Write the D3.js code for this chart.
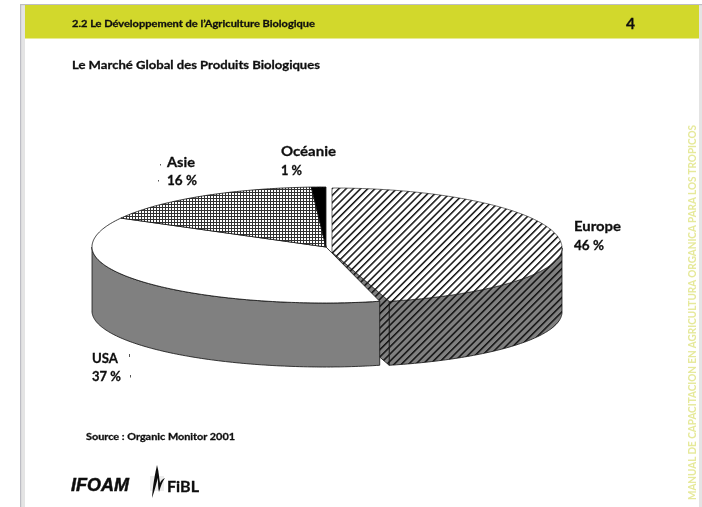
<!DOCTYPE html>
<html><head><meta charset="utf-8">
<script src="https://cdn.jsdelivr.net/npm/d3@7/dist/d3.min.js"></script>
<style>html,body{margin:0;padding:0;background:#fff}svg{display:block}text{font-family:Lato,"Noto Sans",sans-serif;font-weight:700;fill:#111;stroke:#111;stroke-width:0.3}</style>
</head><body><svg id="c" width="702" height="507"></svg>
<script>
const categories = ["Europe", "USA", "Asie", "Océanie"];
const values = [46, 37, 16, 1];
const percentLabels = ["46 %", "37 %", "16 %", "1 %"];
const pageTitle = "2.2 Le Développement de l’Agriculture Biologique";
const pageNumber = "4";
const chartTitle = "Le Marché Global des Produits Biologiques";
const sourceText = "Source : Organic Monitor 2001";
const sideText = "MANUAL DE CAPACITACION EN AGRICULTURA ORGANICA PARA LOS TROPICOS";

const svg = d3.select("#c");
const defs = svg.append("defs");
defs.append("filter").attr("id","soft").append("feGaussianBlur").attr("stdDeviation",0.35);
function stripes(id,bg){
  const p = defs.append("pattern").attr("id",id).attr("patternUnits","userSpaceOnUse")
    .attr("width",5.1).attr("height",5.1).attr("patternTransform","rotate(45)");
  p.append("rect").attr("width",5.1).attr("height",5.1).attr("fill",bg);
  p.append("rect").attr("width",1.5).attr("height",5.1).attr("fill","#111");
}
stripes("hatchTop","#fff"); stripes("hatchSide","#808080");
const g0 = defs.append("pattern").attr("id","grid").attr("patternUnits","userSpaceOnUse").attr("width",3).attr("height",3);
g0.append("rect").attr("width",3).attr("height",3).attr("fill","#333");
g0.append("rect").attr("x",1).attr("y",1).attr("width",2).attr("height",2).attr("fill","#fff");

// page furniture
svg.append("rect").attr("x",20).attr("y",4).attr("width",682).attr("height",503).attr("fill","#e4e4e4");
svg.append("rect").attr("x",20).attr("y",4).attr("width",682).attr("height",1.2).attr("fill","#bdbdc4");
svg.append("rect").attr("x",20).attr("y",4).attr("width",1.2).attr("height",503).attr("fill","#bdbdc4");
svg.append("rect").attr("x",25).attr("y",5).attr("width",674).attr("height",502).attr("fill","#fff");
svg.append("rect").attr("x",25).attr("y",5).attr("width",674).attr("height",33.5).attr("fill","#d2d82c");

const main = svg.append("g").attr("filter","url(#soft)");
function label(t,x,y,size,width,parent){
  const s = (parent||main).append("text").attr("x",x).attr("y",y).attr("font-size",size).text(t);
  if(width) s.attr("textLength",width).attr("lengthAdjust","spacingAndGlyphs");
  return s;
}
label(pageTitle,72,27,9.5,243);
label(pageNumber,626,29,16,9);
label(chartTitle,72,69,12,248);
label(sourceText,86,440,9.5,149);

// pie geometry
const depth = 64;
const pie = d3.pie().sort(null).value(d=>d)(values);
function projector(cx,cy,left,right,back,front){
  const sx = d3.scaleLinear().domain([-1,0,1]).range([cx-left,cx,cx+right]);
  const sy = d3.scaleLinear().domain([-1,0,1]).range([cy+front,cy,cy-back]);
  return { x:a=>sx(Math.sin(a)), y:a=>sy(Math.cos(a)), cx, cy };
}
const pMain = projector(326,247,234,216,60,56);
const pEur = projector(332,248,230,230,60,55);
const line = d3.line().x(d=>d[0]).y(d=>d[1]);
const arcPts = (p,a0,a1,dy=0)=>{
  const n = Math.max(2,Math.ceil(Math.abs(a1-a0)*60));
  return d3.range(n+1).map(i=>{const a=a0+(a1-a0)*i/n;return [p.x(a),p.y(a)+dy];});
};
const topPath = (p,d,apex)=>line([apex,...arcPts(p,d.startAngle,d.endAngle)])+"Z";
const wallPath = (p,a0,a1)=>line([...arcPts(p,a0,a1),...arcPts(p,a1,a0,depth)])+"Z";
const H = Math.PI/2, T = 3*Math.PI/2;
const [eu,us,as,oc] = pie;
const eApex = [pEur.cx,pEur.cy+4], mApex=[pMain.cx,pMain.cy];

const pieG = main.append("g").attr("stroke","#111").attr("stroke-width",0.8).attr("stroke-linejoin","round");
// Europe wall and exposed cut face
pieG.append("path").attr("d",wallPath(pEur,H,eu.endAngle)).attr("fill","url(#hatchSide)");
const ee=[pEur.x(eu.endAngle),pEur.y(eu.endAngle)];
pieG.append("path").attr("d",line([eApex,ee,[ee[0],ee[1]+depth],[eApex[0],eApex[1]+depth]])+"Z").attr("fill","url(#hatchSide)");
// USA wall and top
pieG.append("path").attr("d",wallPath(pMain,us.startAngle,T)).attr("fill","#808080");
pieG.append("path").attr("d",topPath(pMain,us,mApex)).attr("fill","#fff");
// Asie, Océanie, Europe tops
pieG.append("path").attr("d",topPath(pMain,as,mApex)).attr("fill","url(#grid)");
pieG.append("path").attr("d",topPath(pMain,oc,mApex)).attr("fill","#000");
pieG.append("path").attr("d",topPath(pEur,eu,eApex)).attr("fill","url(#hatchTop)").attr("stroke-width",0.6);

// labels
const labelPos = [[574,231,574,250,47],[92,363,92,381,26],[167,167,167,185,28],[281,156,281,175,55]];
const pctWidths = [30,29,30,21];
categories.forEach((c,i)=>{
  const q = labelPos[i];
  label(c,q[0],q[1],14,q[4]);
  label(percentLabels[i],q[2],q[3],13,pctWidths[i]);
});
// specks next to the labels
[[129,354,3],[130,375,2.5],[160,164,1.5],[158,180,1.5]].forEach(s=>
  main.append("rect").attr("x",s[0]).attr("y",s[1]).attr("width",1).attr("height",s[2]).attr("fill","#555"));

// side text
main.append("text").attr("transform","translate(696,500) rotate(-90)").attr("font-size",11)
  .attr("textLength",375).attr("lengthAdjust","spacingAndGlyphs").style("fill","#e6e99a").style("stroke","none").text(sideText);

// logos
const logo = main.append("g");
label("IFOAM",71,491,18,58,logo).style("font-family","'Liberation Sans'").style("font-style","italic").style("stroke-width",0.5);
logo.append("rect").attr("x",150).attr("y",476).attr("width",14).attr("height",15).attr("fill","#ccc").attr("opacity",0.35);
logo.append("path").attr("d","M157 465 C155 474 153 484 152 498 C155 490 156 484 158 478 C158 484 158 488 159 492 C161 486 162 482 165 478 C162 479 161 481 160 483 C159 478 159 472 157 465Z").attr("fill","#111");
label("FiBL",167,492,15,32,logo);
</script></body></html>
